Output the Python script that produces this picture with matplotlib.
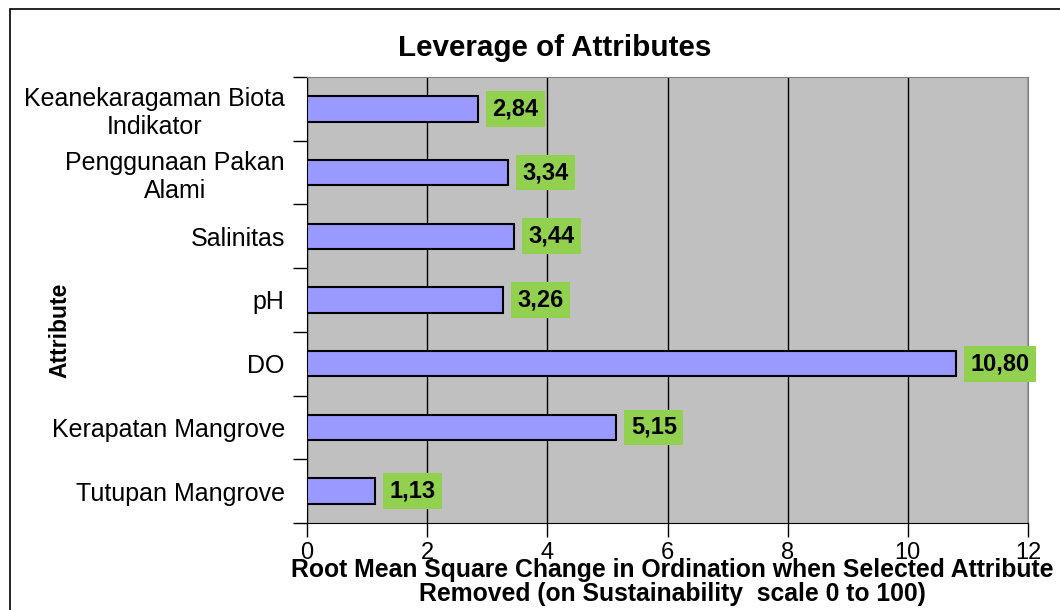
import matplotlib
matplotlib.use("Agg")
import matplotlib.pyplot as plt
from matplotlib.patches import Rectangle
import numpy as np

categories = ["Keanekaragaman Biota\nIndikator", "Penggunaan Pakan\nAlami", "Salinitas", "pH",
              "DO", "Kerapatan Mangrove", "Tutupan Mangrove"]
values = [2.84, 3.34, 3.44, 3.26, 10.80, 5.15, 1.13]
labels = ["2,84", "3,34", "3,44", "3,26", "10,80", "5,15", "1,13"]
xticks = [0, 2, 4, 6, 8, 10, 12]

plt.rcParams['font.family'] = ['Liberation Sans', 'DejaVu Sans']

W, H = 1060, 610
fig = plt.figure(figsize=(W / 100, H / 100), dpi=100)
fig.patch.set_facecolor("white")

# outer frame
fig.patches.append(Rectangle((10 / W, -0.2), 1.2, 1.2 - 9 / H, transform=fig.transFigure,
                             fill=False, edgecolor="black", linewidth=1.2, zorder=0))

ax = fig.add_axes([307 / W, 1 - 523 / H, (1028 - 307) / W, (523 - 77) / H])
ax.set_facecolor("#C0C0C0")

n = len(categories)
ypos = np.arange(n)[::-1]
ax.barh(ypos, values, height=0.4, color="#9999FF", edgecolor="black", linewidth=1.5, zorder=3)

for y, v, lab in zip(ypos, values, labels):
    ax.text(v + 0.24, y, lab, ha="left", va="center", fontsize=17, fontweight="bold",
            bbox=dict(boxstyle="square,pad=0.27", facecolor="#92D050", edgecolor="none"), zorder=4)

ax.set_xlim(0, 12)
ax.set_ylim(-0.5, n - 0.5)
ax.set_xticks(xticks)
ax.set_xticklabels([str(t) for t in xticks], fontsize=17)
ax.xaxis.grid(True, color="black", linewidth=1, zorder=1)
ax.set_axisbelow(True)

ax.set_yticks(np.arange(-0.5, n, 1.0))
ax.set_yticklabels([])
ax.set_yticks(ypos, minor=True)
ax.set_yticklabels(categories, minor=True, fontsize=18, ha="right", multialignment="center",
                   linespacing=1.2)
ax.tick_params(axis="y", which="major", length=10, width=1, direction="out")
ax.tick_params(axis="y", which="minor", length=0, pad=16)
ax.tick_params(axis="x", length=10, width=1, direction="out", pad=4)

for s in ["top", "right"]:
    ax.spines[s].set_color("#808080")
ax.spines["left"].set_color("black")
ax.spines["bottom"].set_color("black")

fig.text(555 / W, 1 - 48 / H, "Leverage of Attributes", ha="center", va="center",
         fontsize=21.3, fontweight="bold")
fig.text(60 / W, 1 - 330 / H, "Attribute", ha="center", va="center", rotation=90,
         fontsize=16.5, fontweight="bold")
fig.text(672 / W, 1 - 582 / H,
         "Root Mean Square Change in Ordination when Selected Attribute\nRemoved (on Sustainability  scale 0 to 100)",
         ha="center", va="center", fontsize=17.8, fontweight="bold", linespacing=1.05)

fig.savefig("out.png", dpi=100)
